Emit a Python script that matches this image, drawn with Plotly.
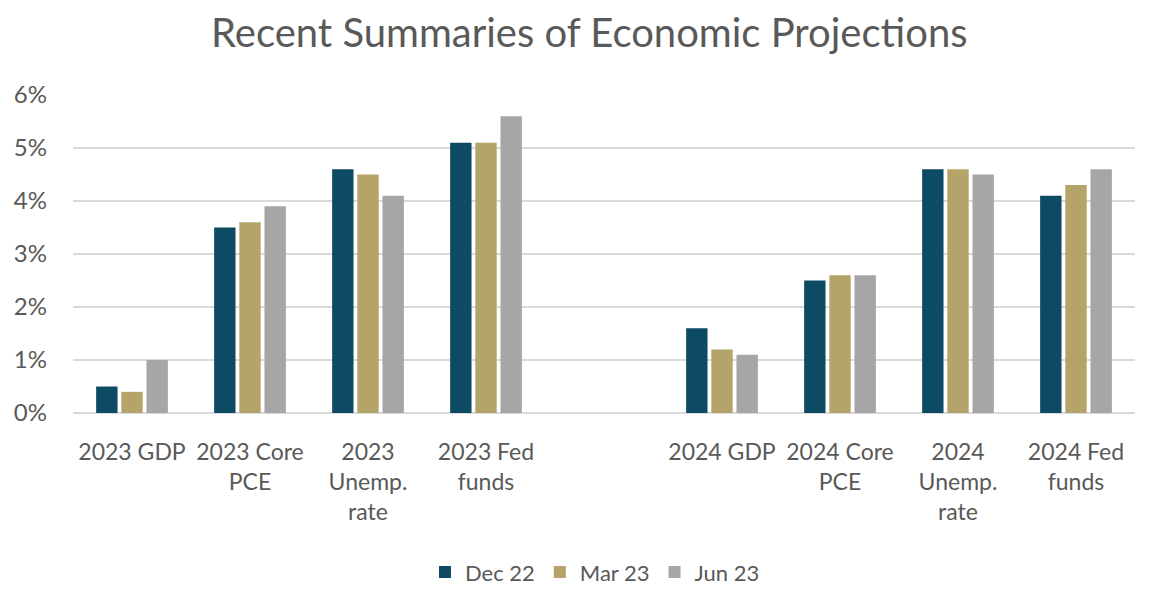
import plotly.graph_objects as go

categories = ["2023 GDP", "2023 Core<br>PCE", "2023<br>Unemp.<br>rate", "2023 Fed<br>funds", " ",
              "2024 GDP", "2024 Core<br>PCE", "2024<br>Unemp.<br>rate", "2024 Fed<br>funds"]
dec22 = [0.5, 3.5, 4.6, 5.1, None, 1.6, 2.5, 4.6, 4.1]
mar23 = [0.4, 3.6, 4.5, 5.1, None, 1.2, 2.6, 4.6, 4.3]
jun23 = [1.0, 3.9, 4.1, 5.6, None, 1.1, 2.6, 4.5, 4.6]
series_names = ["Dec 22", "Mar 23", "Jun 23"]
colors = ["#0d4a63", "#b4a46a", "#a6a6a6"]

fig = go.Figure()
for name, vals, c in zip(series_names, [dec22, mar23, jun23], colors):
    fig.add_trace(go.Bar(x=categories, y=vals, name=name, marker_color=c, marker_line_width=0))

FONT = "Lato, 'Open Sans', sans-serif"
fig.update_layout(
    width=1151, height=590,
    margin=dict(l=73, r=16, t=95, b=177, autoexpand=False),
    paper_bgcolor="white", plot_bgcolor="white",
    barmode="group", bargap=0.36, bargroupgap=0.15,
    font=dict(family=FONT, color="#595959", size=23),
    title=dict(text="Recent Summaries of Economic Projections", x=0.512, xanchor="center",
               y=0.944, yanchor="middle", font=dict(size=40, color="#595959", family=FONT)),
    legend=dict(orientation="h", x=0.4915, xanchor="center", yref="container", y=0.03,
                yanchor="middle", font=dict(size=22, color="#595959"), traceorder="normal",
                itemwidth=30),
    showlegend=True,
)
fig.update_xaxes(categoryorder="array", categoryarray=categories, showgrid=False,
                 showline=False, ticks="", tickfont=dict(size=23, color="#595959"), tickangle=0,
                 ticklabelstandoff=23, automargin=False)
fig.update_yaxes(range=[0, 6], dtick=1, ticksuffix="%", showgrid=True, gridcolor="#d9d9d9",
                 gridwidth=1.5, zeroline=True, zerolinecolor="#d9d9d9", zerolinewidth=1.5,
                 tickfont=dict(size=24, color="#595959"), ticks="", ticklabelstandoff=25,
                 automargin=False)

fig.write_html("out.html")
